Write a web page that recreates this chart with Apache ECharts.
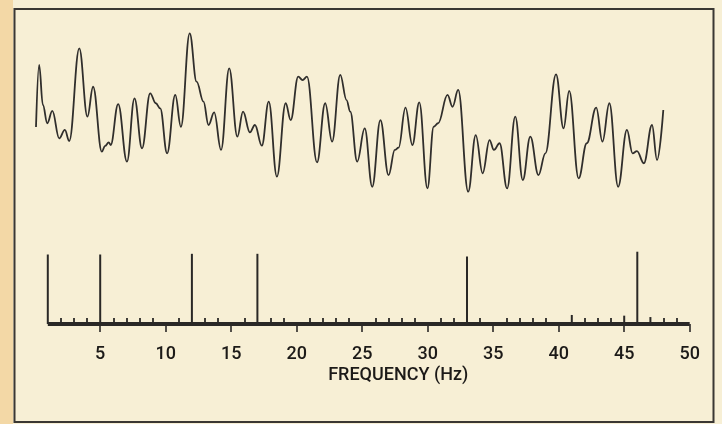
<!DOCTYPE html>
<html>
<head>
<meta charset="utf-8">
<script src="https://cdn.jsdelivr.net/npm/echarts@6/dist/echarts.min.js"></script>
<style>
html,body{margin:0;padding:0;background:#f7efd5;}
#chart{width:722px;height:424px;}
</style>
</head>
<body>
<div id="chart"></div>
<script>
// ---- data ----
// time signal (seconds, arbitrary amplitude)
const signalTime = [0.000,0.005,0.011,0.018,0.026,0.037,0.046,0.053,0.069,0.082,0.091,0.105,0.110,0.116,0.119,0.131,0.145,0.157,0.169,0.182,0.191,0.198,0.209,0.222,0.231,0.245,0.256,0.267,0.275,0.284,0.295,0.308,0.321,0.330,0.341,0.349,0.360,0.371,0.384,0.398,0.406,0.418,0.425,0.432,0.448,0.461,0.472,0.485,0.495,0.501,0.512,0.524,0.536,0.549,0.562,0.572,0.578,0.589,0.600,0.611,0.624,0.634,0.641,0.656,0.664,0.673,0.689,0.701,0.712,0.723,0.730,0.739,0.751,0.764,0.776,0.788,0.801,0.812,0.829,0.841,0.850,0.865,0.878,0.893,0.903,0.914,0.928,0.942,0.951,0.958,0.969,0.982,0.990,1.000];
const signalValue = [-0.13,3.75,1.25,0.11,0.88,-0.83,-0.31,-1.00,4.79,0.52,2.39,-1.67,-1.31,-1.09,-1.25,1.31,-2.29,1.67,-1.46,1.98,1.36,1.04,-1.77,1.88,-0.11,5.73,2.71,1.46,0.00,0.79,-1.56,3.54,-0.73,0.83,-0.46,0.00,-1.29,1.46,-3.23,1.36,0.31,3.02,2.81,3.02,-2.33,1.36,-1.04,3.13,1.56,0.83,-2.29,-0.21,-3.86,0.31,-3.13,-1.56,-1.42,1.08,-1.25,1.42,-3.96,-0.11,0.11,1.88,1.14,2.19,-4.17,-0.63,-3.02,-0.94,-1.56,-1.14,-3.96,0.52,-3.44,-0.73,-3.13,-1.77,3.17,-0.21,2.13,-3.33,-1.14,1.08,-1.04,1.36,-3.86,-0.31,-1.77,-1.63,-2.39,0.00,-2.19,0.94];
// spectrum (Hz, relative amplitude)
const specFreq = [1, 5, 12, 17, 33, 41, 45, 46, 47];
const specAmp  = [1.00, 1.00, 1.01, 1.01, 0.97, 0.13, 0.12, 1.04, 0.10];
const freqTicks = [5, 10, 15, 20, 25, 30, 35, 40, 45, 50];
const freqMinorTicks = [2,3,4,6,7,8,9,11,13,14,16,18,19,21,22,23,24,26,27,28,29,31,32,34,36,37,38,39,42,43,44,48,49];
const freqRange = [1, 50];
const axisName = 'FREQUENCY (Hz)';

const ink = '#2a2826';
const font = "Roboto, 'DejaVu Sans', sans-serif";

const chart = echarts.init(document.getElementById('chart'), null, {renderer: 'canvas'});
chart.setOption({
  backgroundColor: '#f7efd5',
  animation: false,
  graphic: [
    {type: 'rect', shape: {x: 0, y: 0, width: 13, height: 424}, style: {fill: '#f3d8a6'}, z: -10},
    {type: 'rect', shape: {x: 14.5, y: 9, width: 699, height: 413}, style: {fill: 'none', stroke: '#3a3733', lineWidth: 2}, z: 10}
  ],
  grid: [
    {left: 36, width: 627.3, top: 25, height: 180},
    {left: 34.7, width: 655, top: 240.6, height: 83.4}
  ],
  xAxis: [
    {gridIndex: 0, type: 'value', min: 0, max: 1, show: false},
    {gridIndex: 1, type: 'value', min: 0, max: 50, interval: 5, position: 'bottom', offset: 8,
     axisLine: {show: false}, splitLine: {show: false},
     axisTick: {show: true, length: 8, lineStyle: {color: ink, width: 1.6}, customValues: freqTicks},
     axisLabel: {show: true, margin: 13, color: '#1c1a18', fontSize: 18, fontWeight: 500, fontFamily: font, customValues: freqTicks},
     name: axisName, nameLocation: 'middle', nameGap: 34,
     nameTextStyle: {color: '#1c1a18', fontSize: 18, fontWeight: 500, fontFamily: font, padding: [0, 0, 0, 72]}},
    {gridIndex: 1, type: 'value', min: 0, max: 50, position: 'bottom', offset: 0,
     axisLine: {show: false}, splitLine: {show: false}, axisLabel: {show: false},
     axisTick: {show: true, inside: true, length: 6, lineStyle: {color: ink, width: 1.8}, customValues: freqMinorTicks}}
  ],
  yAxis: [
    {gridIndex: 0, type: 'value', min: -5, max: 6.25, show: false},
    {gridIndex: 1, type: 'value', min: 0, max: 1.2, show: false}
  ],
  series: [
    {type: 'line', xAxisIndex: 0, yAxisIndex: 0,
     data: signalTime.map((t, i) => [t, signalValue[i]]),
     smooth: 0.4, smoothMonotone: 'x', showSymbol: false, symbol: 'none',
     lineStyle: {color: '#302e2c', width: 1.8}},
    {type: 'line', xAxisIndex: 1, yAxisIndex: 1,
     data: freqRange.map(f => [f, 0]), symbol: 'none',
     lineStyle: {color: ink, width: 4}, z: 3},
    {type: 'bar', xAxisIndex: 1, yAxisIndex: 1, barWidth: 2,
     data: specFreq.map((f, i) => [f, specAmp[i]]),
     itemStyle: {color: ink}, z: 4}
  ]
});
</script>
</body>
</html>
